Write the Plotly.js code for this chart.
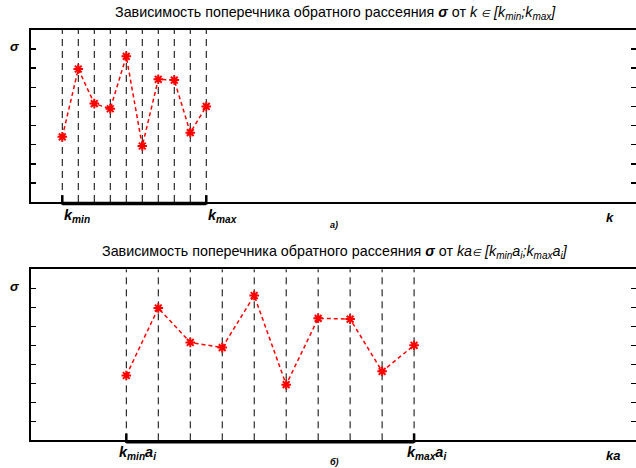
<!DOCTYPE html>
<html><head><meta charset="utf-8">
<script src="https://cdn.plot.ly/plotly-3.0.1.min.js"></script>
<style>html,body{margin:0;padding:0;overflow:hidden;background:#fff}</style>
</head><body>
<div id="chart" style="width:636px;height:468px"></div>
<script>
// data
const kIndex = [1, 2, 3, 4, 5, 6, 7, 8, 9, 10];
const sigma = [3.41, 6.96, 5.15, 4.88, 7.62, 2.93, 6.42, 6.38, 3.63, 5.0];
const yTicks = [1, 2, 3, 4, 5, 6, 7, 8];
const titleTop = 'Зависимость поперечника обратного рассеяния <b><i>σ</i></b> от <i>k <span style="font-size:10px">∈</span> [k<sub>min</sub>;k<sub>max</sub>]</i>';
const titleBottom = 'Зависимость поперечника обратного рассеяния <b><i>σ</i></b> от <i>ka<span style="font-size:10px">∈</span> [k<sub>min</sub>a<sub>i</sub>;k<sub>max</sub>a<sub>i</sub>]</i>';

const FONT = '"Liberation Sans Narrow", "Arial Narrow", "Liberation Sans", Arial, sans-serif';
const LFONT = '"Liberation Sans", Arial, sans-serif';

function series(xa, ya) {
  return {
    x: kIndex, y: sigma, xaxis: xa, yaxis: ya, type: 'scatter', mode: 'lines+markers',
    line: {color: '#ff0000', width: 1.5, dash: '4px,3px'},
    marker: {symbol: 'asterisk-open', size: 8, color: '#ff0000', line: {color: '#ff0000', width: 2}},
    hoverinfo: 'skip', showlegend: false
  };
}
const data = [series('x', 'y'), series('x2', 'y2')];

const shapes = [];
[['x', 'y'], ['x2', 'y2']].forEach(([xa, ya]) => {
  kIndex.forEach(v => shapes.push({type: 'line', xref: xa, yref: ya + ' domain', x0: v, x1: v, y0: 0, y1: 1,
    line: {color: '#000', width: 1, dash: '7px,5px'}, layer: 'below'}));
  const a = kIndex[0], b = kIndex[kIndex.length - 1];
  shapes.push({type: 'line', xref: xa, yref: ya + ' domain', x0: a, x1: b, y0: -0.008, y1: -0.008,
    line: {color: '#000', width: 3.5}});
  [a, b].forEach(v => shapes.push({type: 'line', xref: xa, yref: ya + ' domain', x0: v, x1: v, y0: -0.015, y1: 0.04,
    line: {color: '#000', width: 2.5}}));
});

function yax(domain) {
  return {domain: domain, range: [0, 9], tickvals: yTicks, showticklabels: false, ticks: 'inside', ticklen: 5,
    tickwidth: 1.5, tickcolor: '#000', showline: true, linewidth: 2, linecolor: '#000', mirror: 'ticks',
    showgrid: false, zeroline: false, fixedrange: true};
}
function xax(range, anchor) {
  return {range: range, anchor: anchor, showticklabels: false, ticks: '', showline: true, linewidth: 2,
    linecolor: '#000', mirror: true, showgrid: false, zeroline: false, fixedrange: true};
}

const P = px => 1 - px / 468;
const X = px => (px - 31) / 605;
function lab(text, x, y, xref, size, xanchor) {
  return {text: text, x: x, y: y, xref: xref, yref: 'paper', showarrow: false, xanchor: xanchor || 'left',
    yanchor: 'middle', font: {family: LFONT, size: size, color: '#000'}};
}
const first = kIndex[0], last = kIndex[kIndex.length - 1];

const annotations = [
  {text: titleTop, x: X(335), y: P(13), xref: 'paper', yref: 'paper', showarrow: false, yanchor: 'middle',
    font: {family: FONT, size: 14.3, color: '#000'}},
  {text: titleBottom, x: X(335), y: P(251.5), xref: 'paper', yref: 'paper', showarrow: false, yanchor: 'middle',
    font: {family: FONT, size: 14.3, color: '#000'}},
  lab('<b><i>σ</i></b>', X(15), P(47), 'paper', 13, 'center'),
  lab('<b><i>σ</i></b>', X(15), P(286), 'paper', 13, 'center'),
  lab('<b><i>k<sub>min</sub></i></b>', first, P(216), 'x', 14.5, 'left'),
  lab('<b><i>k<sub>max</sub></i></b>', last, P(216), 'x', 14.5, 'left'),
  lab('<b><i>a)</i></b>', X(334), P(225), 'paper', 9, 'center'),
  lab('<b><i>k</i></b>', X(610), P(217), 'paper', 13, 'center'),
  lab('<b><i>k<sub>min</sub>a<sub>i</sub></i></b>', X(137), P(453), 'paper', 14.5, 'center'),
  lab('<b><i>k<sub>max</sub>a<sub>i</sub></i></b>', X(426), P(453), 'paper', 14.5, 'center'),
  lab('<b><i>б)</i></b>', X(334), P(462), 'paper', 9, 'center'),
  lab('<b><i>ka</i></b>', X(613), P(455), 'paper', 13, 'center')
];

const layout = {
  width: 636, height: 468, margin: {l: 31, r: 0, t: 0, b: 0},
  paper_bgcolor: '#fff', plot_bgcolor: '#fff', showlegend: false,
  xaxis: xax([-0.956, 36.86], 'y'),
  yaxis: yax([P(202), P(30)]),
  xaxis2: xax([-1.981, 16.94], 'y2'),
  yaxis2: Object.assign(yax([P(440.3), P(269.3)]), {anchor: 'x2'}),
  shapes: shapes, annotations: annotations
};
layout.yaxis.anchor = 'x';
Plotly.newPlot('chart', data, layout, {staticPlot: true, displayModeBar: false});
</script>
</body></html>
